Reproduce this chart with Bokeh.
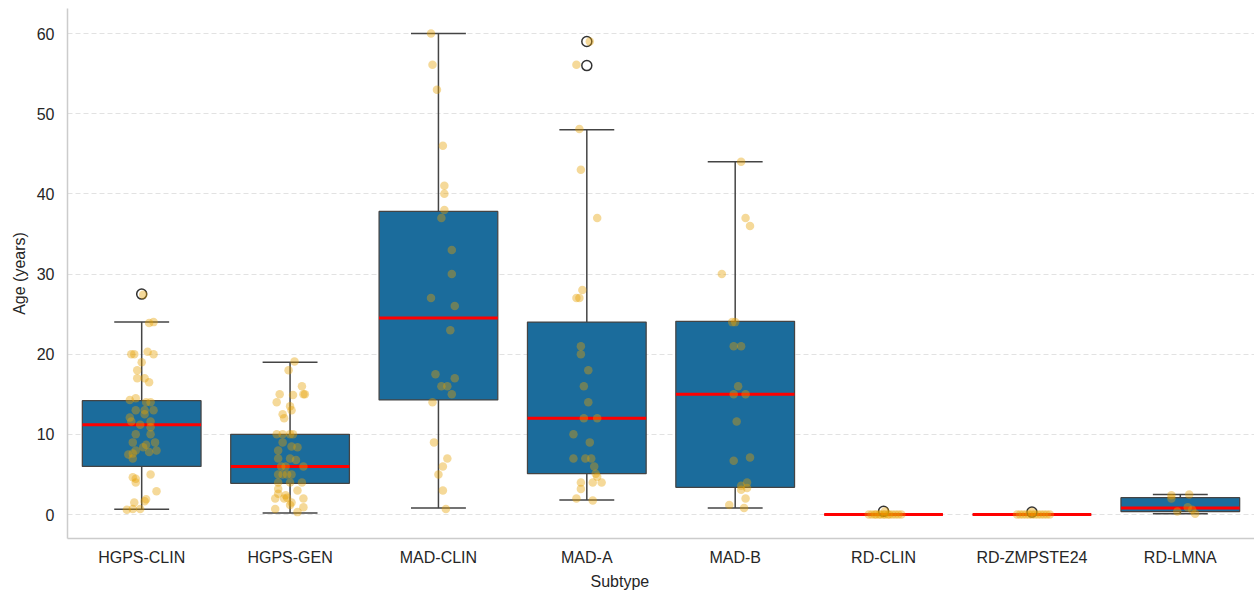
from bokeh.plotting import figure
from bokeh.models import FactorRange, Range1d, FixedTicker, ColumnDataSource, Title
from bokeh.embed import file_html
from bokeh.resources import INLINE

# ---------------- data ----------------
subtypes = ["HGPS-CLIN", "HGPS-GEN", "MAD-CLIN", "MAD-A", "MAD-B",
            "RD-CLIN", "RD-ZMPSTE24", "RD-LMNA"]

box_q1 = [6.0, 3.9, 14.3, 5.1, 3.4, 0.0, 0.0, 0.37]
box_median = [11.2, 6.0, 24.5, 12.0, 15.0, 0.0, 0.0, 0.8]
box_q3 = [14.2, 10.0, 37.8, 24.0, 24.1, 0.0, 0.0, 2.1]
whisker_low = [0.66, 0.2, 0.8, 1.8, 0.8, 0.0, 0.0, 0.1]
whisker_high = [24.0, 19.0, 60.0, 48.0, 44.0, 0.0, 0.0, 2.5]

outlier_subtype = ["HGPS-CLIN", "MAD-A", "MAD-A", "RD-CLIN", "RD-ZMPSTE24"]
outlier_age = [27.5, 59.0, 56.0, 0.4, 0.3]

ages_hgps_clin = [27.4, 23.9, 24.0, 20.0, 20.0, 20.3, 20.0, 19.0, 18.0, 17.0, 17.0, 16.5,
                  14.3, 14.5, 14.0, 14.0, 13.0, 13.0, 13.0, 12.5, 12.1, 11.6, 11.6, 11.2,
                  10.9, 10.0, 10.0, 9.0, 9.0, 8.7, 8.4, 8.0, 7.6, 8.0, 7.8, 7.5, 7.0,
                  4.65, 4.45, 5.0, 4.0, 2.9, 1.5, 1.66, 1.9, 0.6, 0.7, 0.7]
jitter_hgps_clin = [0.01, 0.05, 0.08, -0.07, -0.05, 0.04, 0.08, 0.0, -0.03, -0.03, 0.02, 0.05,
                    -0.08, -0.04, 0.03, 0.06, -0.04, 0.02, 0.08, 0.02, -0.08, -0.07, 0.06, -0.01,
                    0.06, -0.04, 0.06, -0.06, 0.09, 0.03, 0.01, -0.04, -0.06, 0.1, 0.05, -0.09, -0.06,
                    -0.06, -0.04, 0.06, -0.04, 0.1, -0.05, 0.02, 0.03, -0.1, -0.06, -0.01]

ages_hgps_gen = [19.1, 18.0, 16.0, 15.0, 15.0, 15.0, 14.9, 14.0, 13.5, 13.0, 12.5, 12.0,
                 10.0, 10.0, 10.0, 10.0, 9.0, 8.5, 8.4, 8.0, 7.0, 7.0, 6.8, 6.0, 6.0, 6.0,
                 5.0, 5.0, 5.0, 5.0, 4.0, 4.0, 4.0, 3.2, 3.0, 2.6, 2.4, 2.1, 2.0, 2.0, 2.0,
                 1.5, 1.2, 0.7, 0.9, 0.3]
jitter_hgps_gen = [0.03, -0.01, 0.08, 0.09, 0.1, -0.07, 0.02, -0.09, 0.0, 0.01, -0.05, -0.04,
                   -0.09, -0.05, 0.0, 0.02, -0.05, 0.01, 0.05, -0.08, -0.08, 0.0, 0.04, -0.06, -0.03, 0.09,
                   -0.08, -0.05, -0.02, 0.01, -0.08, 0.0, 0.08, -0.08, 0.05, -0.08, -0.03, -0.02, -0.1, -0.04, 0.09,
                   0.01, 0.0, -0.1, 0.09, 0.05]

ages_mad_clin = [60.0, 56.1, 53.0, 46.0, 41.0, 40.0, 38.0, 37.0, 33.0, 30.0, 27.0, 26.0,
                 23.0, 17.5, 17.0, 16.0, 16.0, 15.0, 14.0, 9.0, 7.0, 6.0, 5.0, 3.0, 0.7]
jitter_mad_clin = [-0.05, -0.04, -0.01, 0.03, 0.04, 0.04, 0.04, 0.02, 0.09, 0.09, -0.05, 0.11,
                   0.08, -0.02, 0.11, 0.02, 0.06, 0.09, -0.04, -0.03, 0.06, 0.03, 0.0, 0.03, 0.05]

ages_mad_a = [59.0, 56.1, 48.1, 43.0, 37.0, 28.0, 27.0, 27.0, 21.0, 20.0, 18.0, 16.0, 14.0,
              12.0, 12.0, 10.0, 9.0, 7.0, 7.0, 7.0, 6.0, 5.1, 4.7, 4.0, 4.0, 4.0, 3.2, 2.0, 1.75]
jitter_mad_a = [0.02, -0.07, -0.05, -0.04, 0.07, -0.03, -0.07, -0.05, -0.04, -0.04, 0.01, -0.02, 0.01,
                -0.02, 0.07, -0.09, 0.02, -0.09, -0.01, 0.03, 0.05, 0.06, 0.07, 0.04, 0.1, -0.04, -0.04, -0.07, 0.04]

ages_mad_b = [44.0, 37.0, 36.0, 30.0, 24.0, 24.0, 21.0, 21.0, 16.0, 15.0, 15.0, 11.6,
              6.7, 7.1, 4.0, 3.6, 3.3, 3.1, 2.0, 1.2, 0.8]
jitter_mad_b = [0.04, 0.07, 0.1, -0.09, -0.02, 0.0, -0.01, 0.04, 0.02, -0.01, 0.07, 0.01,
                -0.01, 0.1, 0.08, 0.04, 0.08, 0.04, 0.07, -0.04, 0.06]

ages_rd_clin = [0.0, 0.0, 0.0, 0.0, 0.0, 0.0, 0.0, 0.0, 0.0, 0.0, 0.0, 0.0, 0.0, 0.0, 0.4]
jitter_rd_clin = [-0.1, -0.08, -0.06, -0.05, -0.03, -0.02, 0.0, 0.01, 0.03, 0.04, 0.06, 0.08, 0.1, 0.12, 0.01]

ages_rd_zmpste24 = [0.0, 0.0, 0.0, 0.0, 0.0, 0.0, 0.0, 0.0, 0.0, 0.0, 0.0, 0.0, 0.3]
jitter_rd_zmpste24 = [-0.1, -0.08, -0.06, -0.04, -0.02, 0.0, 0.02, 0.04, 0.06, 0.08, 0.1, 0.12, 0.0]

ages_rd_lmna = [2.4, 2.5, 2.0, 0.37, 0.9, 0.6, 0.1]
jitter_rd_lmna = [-0.06, 0.06, -0.06, -0.02, 0.05, 0.08, 0.1]

y_ticks = [0, 10, 20, 30, 40, 50, 60]
x_title = "Subtype"
y_title = "Age (years)"

# ---------------- styles ----------------
FONT = "Liberation Sans"
TEXT = "#262626"
BOX_FILL = "#1b6c9c"
EDGE = "#444444"
POINT = "#E69F00"
BOX_W = 0.8
CAP_W = 0.37

p = figure(x_range=FactorRange(*subtypes, range_padding=0, factor_padding=0),
           y_range=Range1d(-2.99, 63.12),
           width=1254, height=592, output_backend="svg", toolbar_location=None,
           min_border_left=67, min_border_right=0, min_border_top=8, min_border_bottom=54,
           background_fill_color="white", border_fill_color="white")
p.outline_line_color = None

# boxes
p.vbar(x=subtypes, bottom=box_q1, top=box_q3, width=BOX_W,
       fill_color=BOX_FILL, line_color=EDGE, line_width=1.25)

# whiskers
p.segment(x0=subtypes, x1=subtypes, y0=box_q3, y1=whisker_high, line_color=EDGE, line_width=1.5)
p.segment(x0=subtypes, x1=subtypes, y0=box_q1, y1=whisker_low, line_color=EDGE, line_width=1.5)

cap_left = [(s, -CAP_W / 2) for s in subtypes]
cap_right = [(s, CAP_W / 2) for s in subtypes]
p.segment(x0=cap_left, x1=cap_right, y0=whisker_high, y1=whisker_high, line_color=EDGE, line_width=1.5)
p.segment(x0=cap_left, x1=cap_right, y0=whisker_low, y1=whisker_low, line_color=EDGE, line_width=1.5)

# medians
med_left = [(s, -BOX_W / 2) for s in subtypes]
med_right = [(s, BOX_W / 2) for s in subtypes]
p.segment(x0=med_left, x1=med_right, y0=box_median, y1=box_median, line_color="red", line_width=3)

# outliers
p.scatter(x=outlier_subtype, y=outlier_age, marker="circle", size=10,
          fill_color=None, line_color="#333333", line_width=1.5)

# jittered points
groups = [("HGPS-CLIN", ages_hgps_clin, jitter_hgps_clin),
          ("HGPS-GEN", ages_hgps_gen, jitter_hgps_gen),
          ("MAD-CLIN", ages_mad_clin, jitter_mad_clin),
          ("MAD-A", ages_mad_a, jitter_mad_a),
          ("MAD-B", ages_mad_b, jitter_mad_b),
          ("RD-CLIN", ages_rd_clin, jitter_rd_clin),
          ("RD-ZMPSTE24", ages_rd_zmpste24, jitter_rd_zmpste24),
          ("RD-LMNA", ages_rd_lmna, jitter_rd_lmna)]
px, py = [], []
for name, ages, jit in groups:
    for a, j in zip(ages, jit):
        px.append((name, j))
        py.append(a)
src = ColumnDataSource(data=dict(x=px, y=py))
p.scatter(x="x", y="y", source=src, marker="circle", size=8.5,
          fill_color=POINT, fill_alpha=0.4, line_color=None)

# axes
for ax in (p.xaxis, p.yaxis):
    ax.axis_line_color = "#cccccc"
    ax.axis_line_width = 1.5
    ax.major_tick_line_color = None
    ax.minor_tick_line_color = None
    ax.major_tick_out = 0
    ax.major_tick_in = 0
    ax.minor_tick_out = 0
    ax.minor_tick_in = 0
    ax.major_label_text_font = FONT
    ax.major_label_text_font_size = "16px"
    ax.major_label_text_color = TEXT
    ax.axis_label_text_font = FONT
    ax.axis_label_text_font_size = "16px"
    ax.axis_label_text_font_style = "normal"
    ax.axis_label_text_color = TEXT

p.yaxis.axis_label = y_title
p.xaxis.major_label_standoff = 10
p.yaxis.major_label_standoff = 13
p.yaxis.axis_label_standoff = 6
p.yaxis.ticker = FixedTicker(ticks=y_ticks)

# x-axis title, left of centre as in the reference
p.add_layout(Title(text=x_title, align="left", offset=523, standoff=5,
                   text_font=FONT, text_font_size="16px", text_font_style="normal",
                   text_color=TEXT), "below")

p.xgrid.grid_line_color = None
p.ygrid.grid_line_color = "#e2e2e2"
p.ygrid.grid_line_dash = "5 3"
p.ygrid.grid_line_width = 1

open("out.html", "w").write(file_html(p, INLINE))
